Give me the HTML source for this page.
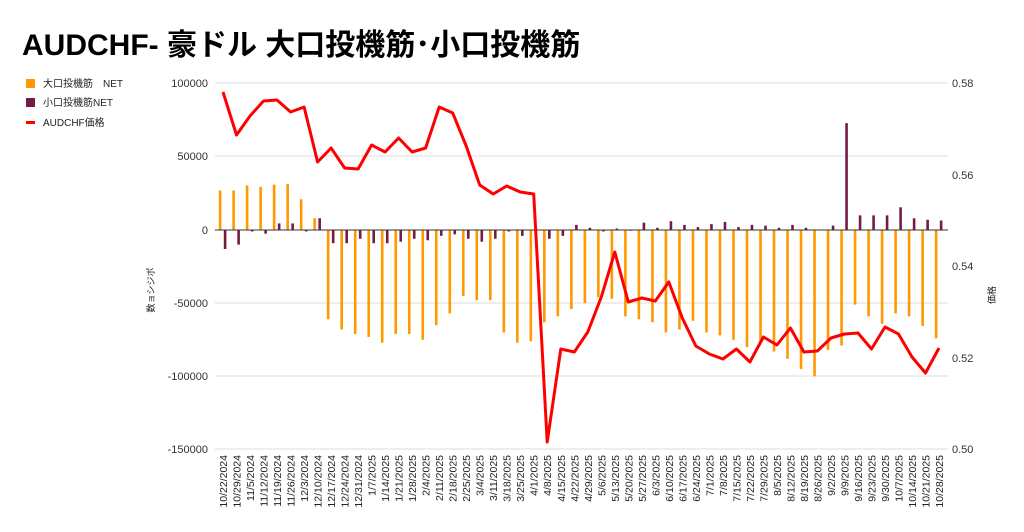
<!DOCTYPE html>
<html><head><meta charset="utf-8"><style>
body{margin:0;background:#fff;width:1024px;height:532px;overflow:hidden}
svg{display:block;font-family:"Liberation Sans","Noto Sans CJK JP",sans-serif}
</style></head><body>
<svg id="c" width="1024" height="532" viewBox="0 0 1024 532">
<text x="22" y="55" font-size="30" font-weight="bold" fill="#000">AUDCHF- 豪ドル 大口投機筋･小口投機筋</text>
<rect x="26" y="79" width="9" height="9" fill="#ff9900"/>
<text x="43" y="87" font-size="10" fill="#222">大口投機筋　NET</text>
<rect x="26" y="98" width="9" height="9" fill="#741b47"/>
<text x="43" y="106" font-size="10" fill="#222">小口投機筋NET</text>
<rect x="26" y="121" width="9" height="3" fill="#ff0000"/>
<text x="43" y="126" font-size="10" fill="#222">AUDCHF価格</text>
<g font-size="11" fill="#333" text-anchor="end">
<text x="208" y="87">100000</text><text x="208" y="160">50000</text><text x="208" y="234">0</text>
<text x="208" y="307">-50000</text><text x="208" y="380">-100000</text><text x="208" y="453">-150000</text>
</g>
<g font-size="11" fill="#333">
<text x="952" y="87">0.58</text><text x="952" y="179">0.56</text><text x="952" y="270">0.54</text>
<text x="952" y="362">0.52</text><text x="952" y="453">0.50</text>
</g>
<text transform="translate(154,290) rotate(-90)" font-size="9" text-anchor="middle" fill="#222">数ョシジポ</text>
<text transform="translate(995,295) rotate(-90)" font-size="9" text-anchor="middle" fill="#222">価格</text>
<g id="grid"></g><g id="bars"></g><g id="line"></g>
<g id="labels" font-size="10.5" fill="#222" text-anchor="end">
<text>10/22/2024</text><text>10/29/2024</text><text>11/5/2024</text><text>11/12/2024</text><text>11/19/2024</text><text>11/26/2024</text><text>12/3/2024</text><text>12/10/2024</text><text>12/17/2024</text><text>12/24/2024</text><text>12/31/2024</text><text>1/7/2025</text><text>1/14/2025</text><text>1/21/2025</text><text>1/28/2025</text><text>2/4/2025</text><text>2/11/2025</text><text>2/18/2025</text><text>2/25/2025</text><text>3/4/2025</text><text>3/11/2025</text><text>3/18/2025</text><text>3/25/2025</text><text>4/1/2025</text><text>4/8/2025</text><text>4/15/2025</text><text>4/22/2025</text><text>4/29/2025</text><text>5/6/2025</text><text>5/13/2025</text><text>5/20/2025</text><text>5/27/2025</text><text>6/3/2025</text><text>6/10/2025</text><text>6/17/2025</text><text>6/24/2025</text><text>7/1/2025</text><text>7/8/2025</text><text>7/15/2025</text><text>7/22/2025</text><text>7/29/2025</text><text>8/5/2025</text><text>8/12/2025</text><text>8/19/2025</text><text>8/26/2025</text><text>9/2/2025</text><text>9/9/2025</text><text>9/16/2025</text><text>9/23/2025</text><text>9/30/2025</text><text>10/7/2025</text><text>10/14/2025</text><text>10/21/2025</text><text>10/28/2025</text>
</g>
</svg>
<script>
var NS="http://www.w3.org/2000/svg";
function el(p,t,a){var e=document.createElementNS(NS,t);for(var k in a)e.setAttribute(k,a[k]);p.appendChild(e);return e;}
var g=document.getElementById('grid');
[83,156,303,376,449].forEach(function(y){el(g,'line',{x1:215,x2:948,y1:y,y2:y,stroke:'#ddd','stroke-width':1});});
var O=[27000,27000,30500,29500,31000,31500,21000,8000,-61000,-68000,-71000,-73000,-77000,-71000,-71000,-75000,-65000,-57000,-45000,-48000,-48000,-70000,-77000,-76000,-63000,-59000,-54000,-50000,-46000,-47000,-59000,-61000,-63000,-70000,-68000,-62000,-70000,-72000,-75000,-80000,-77000,-83000,-88000,-95000,-100000,-82000,-79000,-51000,-59000,-64000,-57000,-59000,-65500,-74000];
var P=[-13000,-10000,-1000,-2500,4500,4500,-1000,8000,-9000,-9000,-6000,-9000,-9000,-8000,-6000,-7000,-4000,-3000,-6000,-8000,-6000,-1000,-4000,-1000,-6000,-4000,3500,1500,-1000,1000,-500,5000,1500,6000,3500,2000,4000,5500,2000,3500,3000,1500,3500,1500,0,3000,73000,10000,10000,10000,15500,8000,7000,6500];
var Y=[92,135,116,101,100,112,107,162,148,168,169,145,152,138,152,148,107,113,146,185,194,186,192,194,442,349,352,332,297,252,302,298,301,282,318,346,354,359,349,362,337,345,328,352,351,338,334,333,349,327,334,357,373,348];
var b=document.getElementById('bars');
function yv(v){return 230-v*73.2/50000;}
for(var i=0;i<54;i++){var cx=223+13.51*i;
 var y1=yv(O[i]);el(b,'rect',{x:cx-4.2,y:Math.min(y1,230),width:2.6,height:Math.abs(y1-230),fill:'#ff9900'});
 var y2=yv(P[i]);el(b,'rect',{x:cx+0.8,y:Math.min(y2,230),width:2.6,height:Math.abs(y2-230),fill:'#741b47'});}
el(b,'line',{x1:215,x2:948,y1:230,y2:230,stroke:'#333','stroke-width':1});
var pts=Y.map(function(y,i){return (223+13.51*i).toFixed(1)+','+y;}).join(' ');
el(document.getElementById('line'),'polyline',{points:pts,fill:'none',stroke:'#ff0000','stroke-width':3,'stroke-linejoin':'round'});
var ls=document.getElementById('labels').children;
for(var i=0;i<ls.length;i++){ls[i].setAttribute('transform','translate('+(227+13.51*i).toFixed(1)+',455) rotate(-90)');}
</script>
</body></html>
